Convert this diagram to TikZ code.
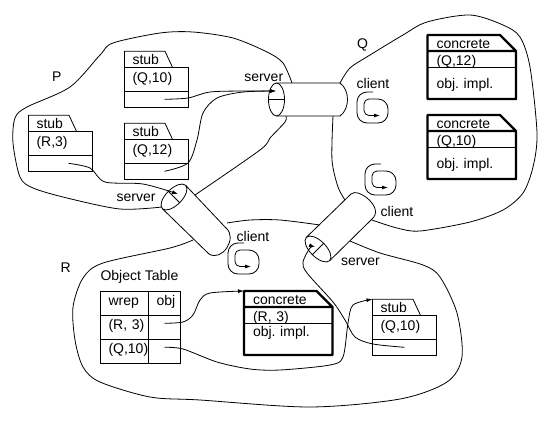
\documentclass[tikz,border=0pt]{standalone}
\usepackage{fontspec}
\setsansfont{Liberation Sans}
\usetikzlibrary{shapes.geometric, arrows.meta, positioning}

\begin{document}
\begin{tikzpicture}[
  x=1pt, y=-1pt, line width=0.8pt,
  every node/.style={outer sep=0pt, font=\fontsize{14}{16}\sffamily\frenchspacing},
  txt/.style={anchor=base west, inner sep=0pt},
  row/.style={draw, anchor=north west, inner ysep=0pt, align=left},
  stubid/.style={row, inner xsep=8pt, text width=48pt, text height=15pt, text depth=9pt},
  stubslot/.style={draw, minimum width=64pt, minimum height=16pt, inner sep=0pt},
  concid/.style={row, inner xsep=9pt, text width=70.5pt, text height=14.5pt, text depth=1.5pt},
  concimpl/.style={concid, text height=21pt, text depth=11pt},
  tabtext/.style={inner xsep=8pt, inner ysep=0pt, text height=13.5pt, text depth=2.5pt},
  wcell/.style={row, inner xsep=8pt, text width=32pt, text height=14pt, text depth=10pt},
  ocell/.style={wcell, text width=16pt},
  portend/.style={draw, ellipse, minimum width=33pt, minimum height=16pt, inner sep=0pt},
  wire/.style={-{Latex[length=6pt,width=4pt]}},
  heavy/.style={line width=2.4pt, line join=bevel}
]
\useasboundingbox (0,0) rectangle (549,421);

% Stubs
\node[stubid] (idqten) at (124.5,67.3) {(Q,10)};
\node[stubslot, below=0pt of idqten] (slotqten) {};
\node[tabtext, above right=0pt and 0pt of idqten.north west] (tabqten) {stub};
\node[stubid] (idqtw) at (124.5,139.3) {(Q,12)};
\node[stubslot, below=0pt of idqtw] (slotqtw) {};
\node[tabtext, above right=0pt and 0pt of idqtw.north west] (tabqtw) {stub};
\node[stubid] (idrth) at (28.5,131.3) {(R,3)};
\node[stubslot, below=0pt of idrth] (slotrth) {};
\node[tabtext, above right=0pt and 0pt of idrth.north west] (tabrth) {stub};
\node[stubid] (idlow) at (372.5,315.3) {(Q,10)};
\node[stubslot, below=0pt of idlow] (slotlow) {};
\node[tabtext, above right=0pt and 0pt of idlow.north west] (tablow) {stub};
\foreach \n in {tabqten,tabqtw,tabrth,tablow}
  \draw (\n.south west) -- (\n.north west) -- ++(40.5,0) -- ++(7.5,16);

% Concrete objects
\node[concid] (idcqtw) at (427.5,51) {(Q,12)};
\node[concimpl, below=0pt of idcqtw] (implcqtw) {obj. impl.};
\node[tabtext, inner xsep=9pt, above right=0pt and 0pt of idcqtw.north west] (tabcqtw) {concrete};
\node[concid] (idcqten) at (427.5,131) {(Q,10)};
\node[concimpl, below=0pt of idcqten] (implcqten) {obj. impl.};
\node[tabtext, inner xsep=9pt, above right=0pt and 0pt of idcqten.north west] (tabcqten) {concrete};
\node[concid] (idcrth) at (244,307) {(R, 3)};
\node[concimpl, text height=13.5pt, text depth=18.5pt, below=0pt of idcrth] (implcrth) {obj. impl.};
\node[tabtext, inner xsep=9pt, above right=0pt and 0pt of idcrth.north west] (tabcrth) {concrete};
\foreach \t/\i/\m in {tabcqtw/idcqtw/implcqtw,tabcqten/idcqten/implcqten,tabcrth/idcrth/implcrth}
  \draw[heavy] (\t.south west) -- (\t.north west) -- ++(72.5,0) -- (\i.north east)
    -- (\m.south east) -- (\m.south west) -- cycle (\i.north west) -- (\i.north east);

% Object table
\node[txt] (tabletitle) at (100.5,280.7) {Object Table};
\node[wcell] (wrephead) at (100.5,291.3) {wrep};
\node[ocell, right=0pt of wrephead] (objhead) {obj};
\node[wcell, below=0pt of wrephead] (wrepr) {\mbox{(R, 3)}};
\node[ocell, right=0pt of wrepr] (objr) {};
\node[wcell, below=0pt of wrepr] (wrepq) {\mbox{(Q,10)}};
\node[ocell, right=0pt of wrepq] (objq) {};

% Channels
\node[portend, rotate=90] (portq) at (276.5,99.5) {};
\draw (portq.north) -- (portq.south);
\coordinate (qtop) at (340,83);
\coordinate (qbot) at (340,116);
\draw (portq.east) -- (qtop) .. controls (350,90) and (350,109) .. (qbot) -- (portq.west);

\node[portend, rotate=45] (portp) at (174,197) {};
\draw (portp.north) -- (portp.south);
\coordinate (ptop) at (226,228);
\coordinate (pbot) at (209,254);
\draw (portp.east) -- (ptop) .. controls (238,238) and (222,262) .. (pbot) -- (portp.west);

\node[portend, rotate=-45] (portr) at (318,249) {};
\draw (portr.north) -- (portr.south);
\coordinate (rtop) at (351,194);
\coordinate (rbot) at (372,219);
\draw (portr.west) -- (rtop) .. controls (358,187) and (385,208) .. (rbot) -- (portr.east);

% Address spaces
\draw plot[smooth] coordinates {(292,83) (283,63) (267,52) (233,38) (193,32) (160,33)
  (113,43) (100,55) (70,87) (27,107) (15,118) (13,143) (20,177) (33,188) (67,198)
  (120,209) (162,207)};
\draw plot[smooth] coordinates {(195,195) (260,150) (270,138) (285,122) (286,116)};
\draw plot[smooth] coordinates {(340,83) (350,68) (370,55) (403,35) (427,22) (470,15)
  (503,25) (520,37) (530,67) (537,133) (533,167) (523,193) (503,210) (470,222)
  (420,231) (397,228) (372,220)};
\draw plot[smooth] coordinates {(333,116) (332,160) (338,187) (345,200)};
\draw plot[smooth] coordinates {(193,240) (170,248) (103,263) (83,278) (73,307) (75,340)
  (83,367) (100,382) (150,397) (200,400) (310,407) (400,399) (447,382) (462,357)
  (457,313) (440,277) (423,265) (380,253) (350,241)};
\draw plot[smooth] coordinates {(227,223) (250,220) (280,220) (320,225)};

% References
\coordinate (inq) at (276,91);
\draw[wire] plot[smooth] coordinates {([xshift=8pt]slotqten.center) (188,98) (210,92) (243,91) (inq)};
\draw[wire] plot[smooth] coordinates {([xshift=8pt]slotqtw.center) (188,163) (197,140)
  (203,113) (217,98) (243,92) (inq)};
\draw[wire] plot[smooth] coordinates {([xshift=8pt]slotrth.center) (90,168) (105,182) (143,184) (178,194)};
\draw[wire] plot[smooth] coordinates {([yshift=4pt]objr.center) (183,322) (193,315) (200,300)
  (210,293) (tabcrth.north west)};
\draw[wire] plot[smooth] coordinates {([yshift=4pt]objq.center) (183,349) (217,362) (250,369)
  (280,370) (330,365) (343,357) (348,323) (353,305) (tablow.north west)};
\draw[wire] plot[smooth] coordinates {(slotlow.center) (373,344) (355,337) (345,320) (333,302)
  (307,273) (303,262) (310,248) (315,247)};

% Client loops
\foreach \lx/\ly in {357/92,365/164,228/243}
  \draw[wire, shift={(\lx,\ly)}] (16,0) [rounded corners=10pt] -- (0,0) -- (0,31) -- (31,31)
    -- (31,7) [rounded corners=5pt] -- (7,7) -- (7,23.5) -- (23,23.5);

% Labels
\node[txt] (lblp) at (52,81) {P};
\node[txt] (lblq) at (357,48) {Q};
\node[txt] (lblr) at (60.7,272.7) {R};
\node[txt] (servq) at (244.3,81) {server};
\node[txt] (servp) at (116.7,201) {server};
\node[txt] (servr) at (341,265) {server};
\node[txt] (cliq) at (356.7,88.3) {client};
\node[txt] (cliqlow) at (380.7,216.7) {client};
\node[txt] (clir) at (236.7,241) {client};
\end{tikzpicture}
\end{document}
